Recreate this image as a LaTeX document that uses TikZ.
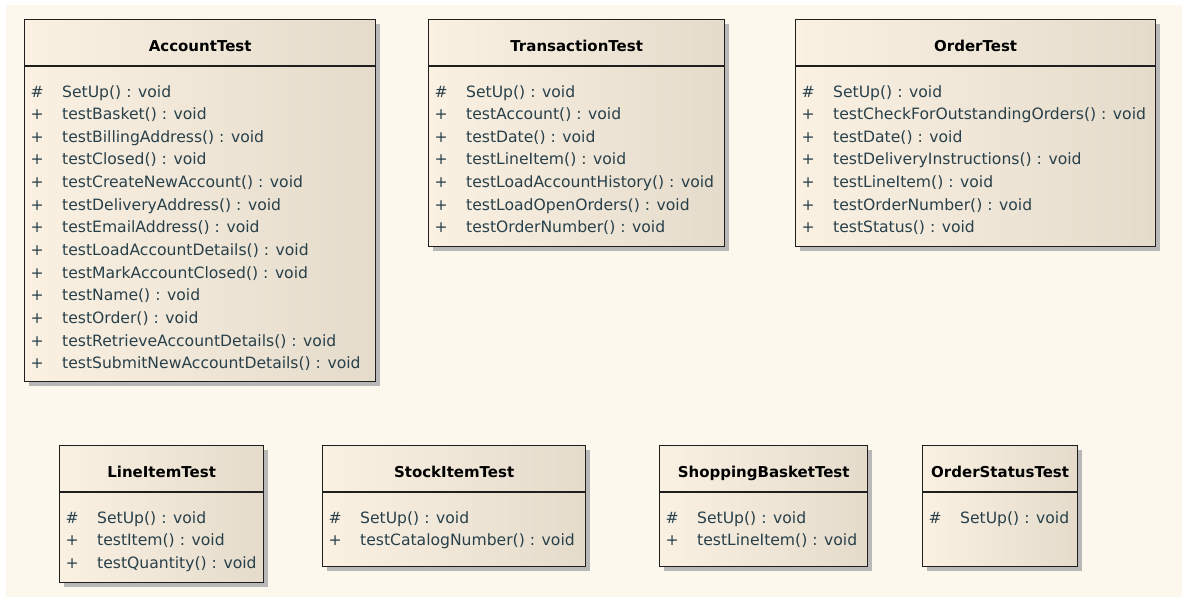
\documentclass[tikz,border=0pt]{standalone}
\usepackage{fontspec}
\setmainfont{DejaVu Sans}
\usepackage{tikz}
\usetikzlibrary{calc}
\usetikzlibrary{shadows}

\definecolor{bgcream}{RGB}{253,248,237}
\definecolor{boxleft}{RGB}{250,241,227}
\definecolor{boxright}{RGB}{228,219,203}
\definecolor{membertext}{RGB}{40,64,74}

\begin{document}
\begin{tikzpicture}[x=1pt,y=-1pt,
      classbox/.style={draw=black!88,line width=1.3pt,rectangle,inner sep=0pt,
        anchor=north west,left color=boxleft,right color=boxright,
        drop shadow={shadow xshift=4pt,shadow yshift=-4pt,fill=black!28,opacity=1}},
      classname/.style={anchor=base,inner sep=0pt,font=\fontsize{15}{18}\selectfont\bfseries},
      classline/.style={draw=black!88,line width=1.3pt},
      member/.style={anchor=base west,inner sep=0pt,text=membertext,
        font=\fontsize{15.6}{18}\selectfont}]

  \useasboundingbox (0,0) rectangle (1182,597);
  \fill[bgcream] (6,5) rectangle (1182,597);

  % upper row
  \node[classbox,minimum width=351pt,minimum height=362pt] (account) at (24,19) {};
  \node[classname] (accountname) at ($(account.north)+(0,32.5)$) {AccountTest};
  \draw[classline] ($(account.north west)+(0,47)$) -- ($(account.north east)+(0,47)$);
  \foreach \vis/\op [count=\i] in {\#/SetUp,+/testBasket,+/testBillingAddress,+/testClosed,
      +/testCreateNewAccount,+/testDeliveryAddress,+/testEmailAddress,
      +/testLoadAccountDetails,+/testMarkAccountClosed,+/testName,+/testOrder,
      +/testRetrieveAccountDetails,+/testSubmitNewAccountDetails}
    \node[member] (account-\i) at ($(account.north west)+(8,78+22.65*\i-22.65)$)
      {\makebox[10pt]{\vis}\hspace{20pt}\op() : void};

  \node[classbox,minimum width=296pt,minimum height=227pt] (transaction) at (428,19) {};
  \node[classname] (transactionname) at ($(transaction.north)+(0,32.5)$) {TransactionTest};
  \draw[classline] ($(transaction.north west)+(0,47)$) -- ($(transaction.north east)+(0,47)$);
  \foreach \vis/\op [count=\i] in {\#/SetUp,+/testAccount,+/testDate,+/testLineItem,
      +/testLoadAccountHistory,+/testLoadOpenOrders,+/testOrderNumber}
    \node[member] (transaction-\i) at ($(transaction.north west)+(8,78+22.65*\i-22.65)$)
      {\makebox[10pt]{\vis}\hspace{20pt}\op() : void};

  \node[classbox,minimum width=360pt,minimum height=227pt] (order) at (795,19) {};
  \node[classname] (ordername) at ($(order.north)+(0,32.5)$) {OrderTest};
  \draw[classline] ($(order.north west)+(0,47)$) -- ($(order.north east)+(0,47)$);
  \foreach \vis/\op [count=\i] in {\#/SetUp,+/testCheckForOutstandingOrders,+/testDate,
      +/testDeliveryInstructions,+/testLineItem,+/testOrderNumber,+/testStatus}
    \node[member] (order-\i) at ($(order.north west)+(8,78+22.65*\i-22.65)$)
      {\makebox[10pt]{\vis}\hspace{20pt}\op() : void};

  % lower row
  \node[classbox,minimum width=204pt,minimum height=137pt] (lineitem) at (59,445) {};
  \node[classname] (lineitemname) at ($(lineitem.north)+(0,32.5)$) {LineItemTest};
  \draw[classline] ($(lineitem.north west)+(0,47)$) -- ($(lineitem.north east)+(0,47)$);
  \foreach \vis/\op [count=\i] in {\#/SetUp,+/testItem,+/testQuantity}
    \node[member] (lineitem-\i) at ($(lineitem.north west)+(8,78+22.65*\i-22.65)$)
      {\makebox[10pt]{\vis}\hspace{20pt}\op() : void};

  \node[classbox,minimum width=263pt,minimum height=121pt] (stockitem) at (322,445) {};
  \node[classname] (stockitemname) at ($(stockitem.north)+(0,32.5)$) {StockItemTest};
  \draw[classline] ($(stockitem.north west)+(0,47)$) -- ($(stockitem.north east)+(0,47)$);
  \foreach \vis/\op [count=\i] in {\#/SetUp,+/testCatalogNumber}
    \node[member] (stockitem-\i) at ($(stockitem.north west)+(8,78+22.65*\i-22.65)$)
      {\makebox[10pt]{\vis}\hspace{20pt}\op() : void};

  \node[classbox,minimum width=208pt,minimum height=121pt] (basket) at (659,445) {};
  \node[classname] (basketname) at ($(basket.north)+(0,32.5)$) {ShoppingBasketTest};
  \draw[classline] ($(basket.north west)+(0,47)$) -- ($(basket.north east)+(0,47)$);
  \foreach \vis/\op [count=\i] in {\#/SetUp,+/testLineItem}
    \node[member] (basket-\i) at ($(basket.north west)+(8,78+22.65*\i-22.65)$)
      {\makebox[10pt]{\vis}\hspace{20pt}\op() : void};

  \node[classbox,minimum width=155pt,minimum height=121pt] (status) at (922,445) {};
  \node[classname] (statusname) at ($(status.north)+(0,32.5)$) {OrderStatusTest};
  \draw[classline] ($(status.north west)+(0,47)$) -- ($(status.north east)+(0,47)$);
  \node[member] (status-1) at ($(status.north west)+(8,78)$)
    {\makebox[10pt]{\#}\hspace{20pt}SetUp() : void};
\end{tikzpicture}
\end{document}
